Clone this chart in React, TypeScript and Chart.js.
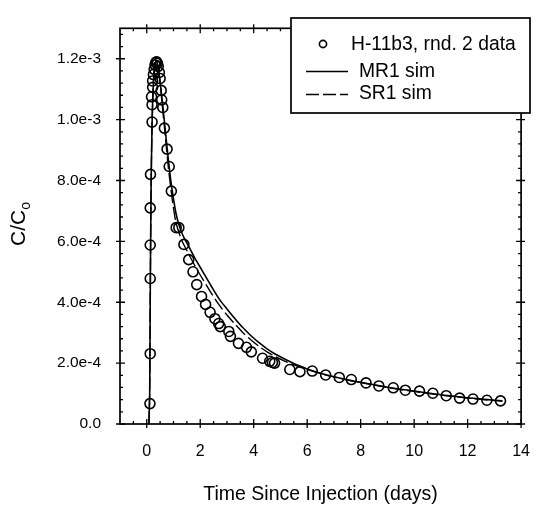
import React, { useEffect, useRef } from "react";
import { Chart, registerables } from "chart.js";

Chart.register(...registerables);

// ---- Data (time in days, C/Co) ----
const obsTime = [
  0.12, 0.13, 0.13, 0.13, 0.13, 0.14, 0.20, 0.18, 0.20, 0.22, 0.22, 0.25, 0.28, 0.31, 0.34,
  0.37, 0.40, 0.43, 0.47, 0.50, 0.54, 0.56, 0.60, 0.66, 0.76, 0.84, 0.92, 1.10, 1.20, 1.39,
  1.57, 1.73, 1.87, 2.05, 2.20, 2.37, 2.55, 2.69, 2.75, 3.07, 3.13, 3.43, 3.73, 3.91, 4.33,
  4.60, 4.70, 4.78, 5.35, 5.73, 6.19, 6.69, 7.20, 7.65, 8.20, 8.68, 9.22, 9.67, 10.20, 10.70,
  11.20, 11.70, 12.20, 12.72, 13.23,
];
const obsConc = [
  0.67e-4, 2.31e-4, 4.78e-4, 5.88e-4, 7.10e-4, 8.20e-4, 9.92e-4, 10.75e-4, 10.49e-4, 11.06e-4,
  11.27e-4, 11.48e-4, 11.65e-4, 11.80e-4, 11.88e-4, 11.90e-4, 11.85e-4, 11.75e-4, 11.55e-4,
  11.35e-4, 10.96e-4, 10.65e-4, 10.40e-4, 9.72e-4, 9.03e-4, 8.46e-4, 7.65e-4, 6.45e-4, 6.45e-4,
  5.90e-4, 5.40e-4, 5.00e-4, 4.58e-4, 4.19e-4, 3.93e-4, 3.67e-4, 3.46e-4, 3.30e-4, 3.20e-4,
  3.04e-4, 2.88e-4, 2.65e-4, 2.52e-4, 2.37e-4, 2.16e-4, 2.06e-4, 2.02e-4, 2.00e-4, 1.79e-4,
  1.72e-4, 1.74e-4, 1.61e-4, 1.53e-4, 1.46e-4, 1.35e-4, 1.25e-4, 1.19e-4, 1.11e-4, 1.08e-4,
  1.01e-4, 0.93e-4, 0.85e-4, 0.82e-4, 0.78e-4, 0.76e-4,
];

const mr1Time = [
  0.08, 0.11, 0.13, 0.16, 0.20, 0.25, 0.30, 0.36, 0.42, 0.50, 0.60, 0.70, 0.80, 0.90, 1.00,
  1.10, 1.20, 1.35, 1.50, 1.80, 2.10, 2.40, 2.70, 3.00, 3.30, 3.60, 3.90, 4.20, 4.50, 4.80,
  5.10, 5.40, 5.70, 6.00, 6.50, 7.00, 7.50, 8.00, 8.50, 9.00, 9.50, 10.00, 10.50, 11.00, 11.50,
  12.00, 12.50, 13.00, 13.30,
];
const mr1Conc = [
  0.0, 1.0e-4, 4.0e-4, 7.5e-4, 9.9e-4, 11.2e-4, 11.75e-4, 11.92e-4, 11.75e-4, 11.25e-4, 10.45e-4,
  9.6e-4, 8.75e-4, 8.0e-4, 7.4e-4, 6.9e-4, 6.55e-4, 6.2e-4, 5.95e-4, 5.45e-4, 5.0e-4, 4.55e-4,
  4.12e-4, 3.78e-4, 3.46e-4, 3.16e-4, 2.9e-4, 2.67e-4, 2.47e-4, 2.3e-4, 2.16e-4, 2.03e-4,
  1.91e-4, 1.81e-4, 1.67e-4, 1.55e-4, 1.45e-4, 1.37e-4, 1.29e-4, 1.21e-4, 1.14e-4, 1.08e-4,
  1.02e-4, 0.96e-4, 0.91e-4, 0.86e-4, 0.82e-4, 0.78e-4, 0.76e-4,
];

const sr1Time = [
  0.08, 0.11, 0.13, 0.16, 0.20, 0.25, 0.30, 0.36, 0.42, 0.50, 0.60, 0.70, 0.80, 0.90, 1.00,
  1.10, 1.30, 1.50, 1.80, 2.10, 2.40, 2.70, 3.00, 3.30, 3.60, 3.90, 4.20, 4.50, 4.80, 5.10,
  5.40, 5.70, 6.00, 6.50, 7.00, 7.50, 8.00, 8.50, 9.00, 9.50, 10.00, 10.50, 11.00, 11.50, 12.00,
  12.50, 13.00, 13.30,
];
const sr1Conc = [
  0.0, 1.0e-4, 4.0e-4, 7.5e-4, 9.9e-4, 11.2e-4, 11.75e-4, 11.92e-4, 11.75e-4, 11.2e-4, 10.3e-4,
  9.4e-4, 8.5e-4, 7.75e-4, 7.1e-4, 6.6e-4, 6.05e-4, 5.7e-4, 5.2e-4, 4.75e-4, 4.32e-4, 3.92e-4,
  3.58e-4, 3.28e-4, 3.0e-4, 2.76e-4, 2.55e-4, 2.37e-4, 2.22e-4, 2.09e-4, 1.98e-4, 1.88e-4,
  1.79e-4, 1.66e-4, 1.55e-4, 1.45e-4, 1.36e-4, 1.28e-4, 1.2e-4, 1.13e-4, 1.07e-4, 1.01e-4,
  0.95e-4, 0.9e-4, 0.85e-4, 0.81e-4, 0.77e-4, 0.75e-4,
];

// ---- Axes ----
const xLabelTicks = [0, 2, 4, 6, 8, 10, 12, 14];
const xMinorTicks = [
  -0.5, 0.5, 1, 1.5, 2.5, 3, 3.5, 4.5, 5, 5.5, 6.5, 7, 7.5, 8.5, 9, 9.5, 10.5, 11, 11.5, 12.5, 13, 13.5,
];
const yLabelTicks = [0, 2e-4, 4e-4, 6e-4, 8e-4, 10e-4, 12e-4];
const yMinorTicks = [
  0.4e-4, 0.8e-4, 1.2e-4, 1.6e-4, 2.4e-4, 2.8e-4, 3.2e-4, 3.6e-4, 4.4e-4, 4.8e-4, 5.2e-4, 5.6e-4,
  6.4e-4, 6.8e-4, 7.2e-4, 7.6e-4, 8.4e-4, 8.8e-4, 9.2e-4, 9.6e-4, 10.4e-4, 10.8e-4, 11.2e-4,
  11.6e-4, 12.4e-4, 12.8e-4,
];
const xTitle = "Time Since Injection (days)";
const yTitleMain = "C/C";
const yTitleSub = "o";
const legendLabels = ["H-11b3, rnd. 2 data", "MR1 sim", "SR1 sim"];

const FONT = "'Liberation Sans', Arial, Helvetica, sans-serif";

function fmtY(v: number): string {
  if (Math.abs(v) < 1e-12) return "0.0";
  const e = Math.floor(Math.log10(v) + 1e-9);
  const m = v / Math.pow(10, e);
  return m.toFixed(1) + "e" + e;
}

const decorPlugin = {
  id: "decor",
  afterDraw(chart: any) {
    const { ctx, chartArea: a } = chart;
    const x = chart.scales.x;
    const y = chart.scales.y;
    ctx.save();
    ctx.strokeStyle = "#000";
    ctx.fillStyle = "#000";
    // frame
    ctx.lineWidth = 1.7;
    ctx.strokeRect(a.left, a.top, a.right - a.left, a.bottom - a.top);
    // ticks
    ctx.lineWidth = 1.3;
    ctx.beginPath();
    const majIn = 5, majOut = 4, minIn = 3;
    for (const v of xLabelTicks) {
      const px = x.getPixelForValue(v);
      ctx.moveTo(px, a.bottom + majOut); ctx.lineTo(px, a.bottom - majIn);
      ctx.moveTo(px, a.top - majOut); ctx.lineTo(px, a.top + majIn);
    }
    for (const v of xMinorTicks) {
      const px = x.getPixelForValue(v);
      ctx.moveTo(px, a.bottom); ctx.lineTo(px, a.bottom - minIn);
      ctx.moveTo(px, a.top); ctx.lineTo(px, a.top + minIn);
    }
    for (const v of yLabelTicks) {
      const py = y.getPixelForValue(v);
      ctx.moveTo(a.left - majOut, py); ctx.lineTo(a.left + majIn, py);
      ctx.moveTo(a.right + majOut, py); ctx.lineTo(a.right - majIn, py);
    }
    for (const v of yMinorTicks) {
      const py = y.getPixelForValue(v);
      ctx.moveTo(a.left, py); ctx.lineTo(a.left + minIn, py);
      ctx.moveTo(a.right, py); ctx.lineTo(a.right - minIn, py);
    }
    ctx.stroke();

    // y title with subscript
    ctx.save();
    ctx.translate(25, 224);
    ctx.rotate(-Math.PI / 2);
    const mainFont = `21px ${FONT}`;
    const subFont = `14px ${FONT}`;
    ctx.font = mainFont;
    const w1 = ctx.measureText(yTitleMain).width;
    ctx.font = subFont;
    const w2 = ctx.measureText(yTitleSub).width;
    const start = -(w1 + w2) / 2;
    ctx.textBaseline = "alphabetic";
    ctx.textAlign = "left";
    ctx.font = mainFont;
    ctx.fillText(yTitleMain, start, 0);
    ctx.font = subFont;
    ctx.fillText(yTitleSub, start + w1, 5);
    ctx.restore();

    // legend box
    const lx = 291, ly = 18, lw = 239, lh = 95;
    ctx.fillStyle = "#fff";
    ctx.fillRect(lx, ly, lw, lh);
    ctx.lineWidth = 1.7;
    ctx.strokeStyle = "#000";
    ctx.strokeRect(lx, ly, lw, lh);
    ctx.fillStyle = "#000";
    ctx.font = `19.3px ${FONT}`;
    ctx.textBaseline = "middle";
    ctx.textAlign = "left";
    // item 1: circle
    ctx.lineWidth = 1.6;
    ctx.beginPath();
    ctx.arc(323, 44, 3.6, 0, Math.PI * 2);
    ctx.stroke();
    ctx.fillText(legendLabels[0], 351, 45);
    // item 2: solid
    ctx.beginPath();
    ctx.lineWidth = 1.5;
    ctx.moveTo(306, 71.5); ctx.lineTo(348, 71.5);
    ctx.stroke();
    ctx.fillText(legendLabels[1], 359, 72);
    // item 3: dashed
    ctx.beginPath();
    ctx.setLineDash([13, 4]);
    ctx.moveTo(306, 94.5); ctx.lineTo(348, 94.5);
    ctx.stroke();
    ctx.setLineDash([]);
    ctx.fillText(legendLabels[2], 359, 94);
    ctx.restore();
  },
};

export default function App() {
  const ref = useRef<HTMLCanvasElement | null>(null);
  useEffect(() => {
    if (!ref.current) return;
    const toXY = (xs: number[], ys: number[]) => xs.map((t, i) => ({ x: t, y: ys[i] }));
    const chart = new Chart(ref.current, {
      type: "scatter",
      data: {
        datasets: [
          {
            label: legendLabels[1],
            data: toXY(mr1Time, mr1Conc),
            showLine: true,
            borderColor: "#000",
            borderWidth: 1.6,
            pointRadius: 0,
            tension: 0.3,
          },
          {
            label: legendLabels[2],
            data: toXY(sr1Time, sr1Conc),
            showLine: true,
            borderColor: "#000",
            borderWidth: 1.4,
            borderDash: [13, 4],
            pointRadius: 0,
            tension: 0.3,
          },
          {
            label: legendLabels[0],
            data: toXY(obsTime, obsConc),
            showLine: false,
            borderColor: "#000",
            backgroundColor: "rgba(0,0,0,0)",
            borderWidth: 1.6,
            pointRadius: 5,
            pointStyle: "circle",
          },
        ],
      },
      options: {
        animation: false,
        responsive: false,
        maintainAspectRatio: false,
        layout: { padding: { top: 8, right: 10, left: 0, bottom: 0 } },
        plugins: { legend: { display: false }, tooltip: { enabled: false } },
        scales: {
          x: {
            type: "linear",
            min: -1,
            max: 14,
            afterBuildTicks: (s: any) => {
              s.ticks = xLabelTicks.map((v) => ({ value: v }));
            },
            afterFit: (s: any) => {
              s.height = 82;
            },
            grid: { display: false, drawTicks: false },
            border: { display: false },
            ticks: {
              autoSkip: false,
              maxRotation: 0,
              padding: 18,
              color: "#000",
              font: { family: FONT, size: 16 },
              callback: (v: any) => String(v),
            },
            title: {
              display: true,
              text: xTitle,
              color: "#000",
              font: { family: FONT, size: 19.5 },
              padding: { top: 0, bottom: 0 },
            },
          },
          y: {
            type: "linear",
            min: 0,
            max: 1.3e-3,
            afterBuildTicks: (s: any) => {
              s.ticks = yLabelTicks.map((v) => ({ value: v }));
            },
            afterFit: (s: any) => {
              s.width = 120;
            },
            grid: { display: false, drawTicks: false },
            border: { display: false },
            ticks: {
              autoSkip: false,
              padding: 19,
              color: "#000",
              font: { family: FONT, size: 15.5 },
              callback: (v: any) => fmtY(Number(v)),
            },
          },
        },
      },
      plugins: [decorPlugin],
    });
    return () => chart.destroy();
  }, []);
  return (
    <div style={{ position: "absolute", left: 0, top: 0, width: 548, height: 506, background: "#fff" }}>
      <canvas ref={ref} width={548} height={506} style={{ width: 548, height: 506 }} />
    </div>
  );
}
